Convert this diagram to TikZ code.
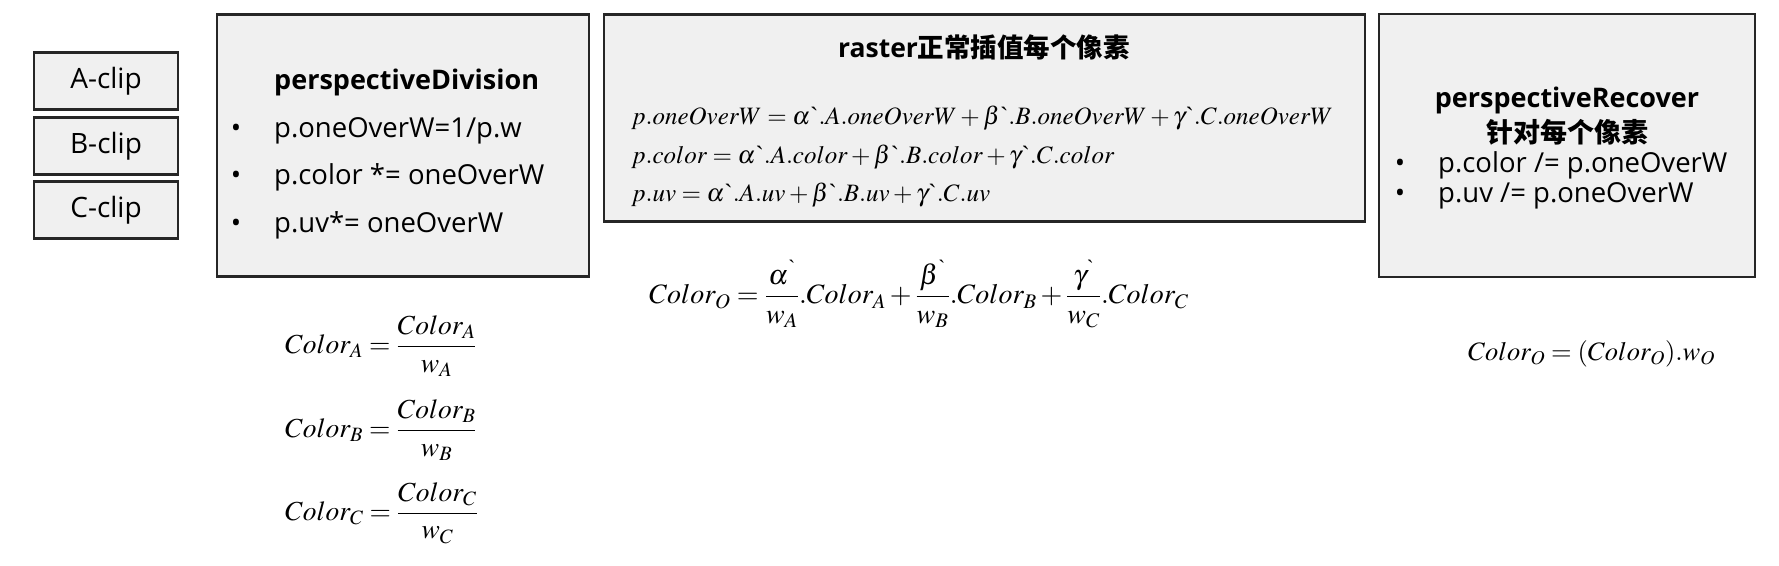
\documentclass[tikz,border=0pt]{standalone}
\usepackage{amsmath}
\usepackage{mathptmx}
\usepackage{fontspec}
\setmainfont{Liberation Serif}
\setsansfont{Open Sans}
\newfontfamily\cjk{Noto Sans CJK SC}
\definecolor{boxfill}{HTML}{F0F0F0}
\definecolor{boxline}{HTML}{262626}
\newcommand{\bq}{\textrm{\textasciigrave}}
\tikzset{
  panel/.style={draw=boxline, line width=2.2pt, fill=boxfill, inner sep=0pt},
  clipbox/.style={panel, minimum width=144pt, minimum height=57pt,
    font=\sffamily\fontsize{28}{33}\selectfont},
  txt/.style={font=\sffamily\fontsize{27.5}{33}\selectfont, inner sep=0pt, anchor=base west},
  ttl/.style={font=\sffamily\bfseries\fontsize{27}{32}\selectfont, inner sep=0pt, anchor=base},
  bul/.style={font=\sffamily\fontsize{27.5}{33}\selectfont, inner sep=0pt, anchor=base},
  eqn/.style={font=\rmfamily\fontsize{25}{30}\selectfont, inner sep=0pt, anchor=base west},
  feqn/.style={font=\rmfamily\fontsize{27.5}{33}\selectfont, inner sep=0pt, anchor=west}
}
\begin{document}
\begin{tikzpicture}[x=1pt,y=-1pt]
\useasboundingbox (0,0) rectangle (1779,565);
% clip boxes
\node[clipbox] (aclip) at (106,81) {A-clip};
\node[clipbox] (bclip) at (106,146) {B-clip};
\node[clipbox] (cclip) at (106,210) {C-clip};
% panels
\node[panel, minimum width=372pt, minimum height=262pt] (pd) at (403,145.5) {};
\node[panel, minimum width=761pt, minimum height=207pt] (ra) at (984.5,118) {};
\node[panel, minimum width=376pt, minimum height=263pt] (pr) at (1567,145.5) {};
% perspectiveDivision
\node[ttl, anchor=base west] (pdt) at (274,89) {perspectiveDivision};
\node[bul] (pdb1) at (236,137) {•};
\node[bul] (pdb2) at (236,184) {•};
\node[bul] (pdb3) at (236,232) {•};
\node[txt] (pd1) at (274,137) {p.oneOverW=1/p.w};
\node[txt] (pd2) at (274,184) {p.color *= oneOverW};
\node[txt] (pd3) at (274,232) {p.uv*= oneOverW};
% raster
\node[ttl, font=\sffamily\bfseries\fontsize{26.5}{32}\selectfont] (rat) at (984,57) {raster{\cjk 正常插值每个像素}};
\node[eqn] (ra1) at (631,124) {$p.oneOverW = \alpha\bq.A.oneOverW + \beta\bq.B.oneOverW + \gamma\bq.C.oneOverW$};
\node[eqn] (ra2) at (631,163) {$p.color = \alpha\bq.A.color + \beta\bq.B.color + \gamma\bq.C.color$};
\node[eqn] (ra3) at (631,201) {$p.uv = \alpha\bq.A.uv + \beta\bq.B.uv + \gamma\bq.C.uv$};
% perspectiveRecover
\node[ttl] (prt) at (1567,107) {perspectiveRecover};
\node[ttl] (prc) at (1567,142) {\cjk 针对每个像素};
\node[bul] (prb1) at (1400,172) {•};
\node[bul] (prb2) at (1400,202) {•};
\node[txt] (pr1) at (1438,172) {p.color /= p.oneOverW};
\node[txt] (pr2) at (1438,202) {p.uv /= p.oneOverW};
% formulas
\node[feqn] (fa) at (285,346) {$\displaystyle Color_A = \frac{Color_A}{w_A}$};
\node[feqn] (fb) at (285,430) {$\displaystyle Color_B = \frac{Color_B}{w_B}$};
\node[feqn] (fc) at (285,513) {$\displaystyle Color_C = \frac{Color_C}{w_C}$};
\node[feqn, font=\rmfamily\fontsize{28}{33}\selectfont] (fo) at (649,294) {$\displaystyle Color_O = \frac{\alpha^{\bq}}{w_A}.Color_A + \frac{\beta^{\bq}}{w_B}.Color_B + \frac{\gamma^{\bq}}{w_C}.Color_C$};
\node[feqn, font=\rmfamily\fontsize{26.5}{33}\selectfont] (fr) at (1468,354) {$Color_O = (Color_O).w_O$};
\end{tikzpicture}
\end{document}
